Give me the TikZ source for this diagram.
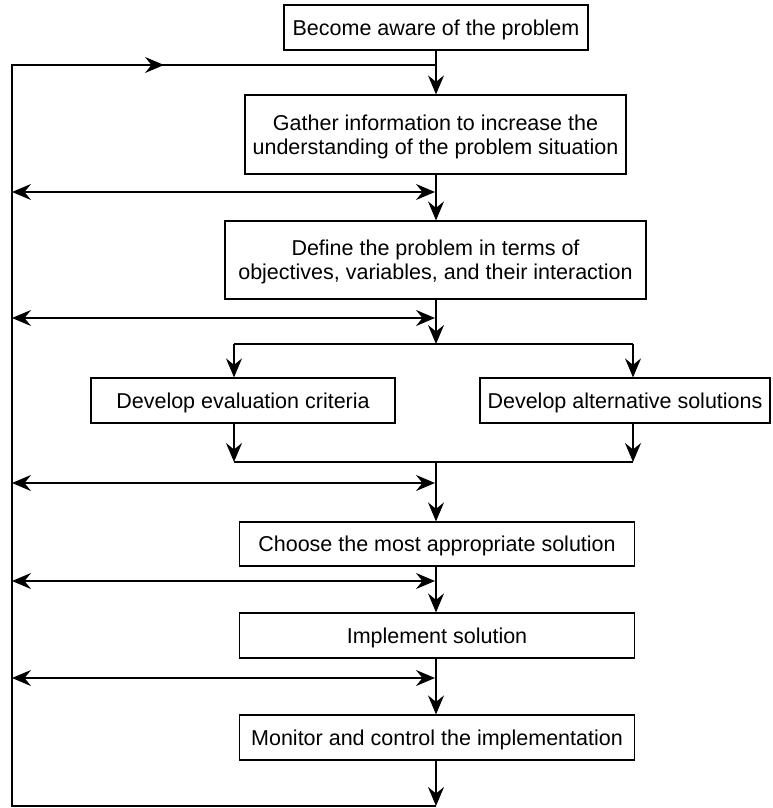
\documentclass[tikz,border=0pt]{standalone}
\usepackage{fontspec}
\setmainfont{Liberation Sans}
\usetikzlibrary{arrows.meta}
\begin{document}
\begin{tikzpicture}[x=1pt,y=-1pt,
  line width=1.2pt,
  box/.style={draw, rectangle, align=center, inner sep=0pt, text depth=0pt,
    font=\fontsize{21.5}{24.3}\selectfont},
  tip/.style={Stealth[length=19pt,width=16pt,inset=6.5pt]},
  flow/.style={-{Stealth[length=19pt,width=16pt,inset=6.5pt]}},
  both/.style={{Stealth[length=19pt,width=16pt,inset=6.5pt]}-{Stealth[length=19pt,width=16pt,inset=6.5pt]}},
]
\useasboundingbox (0,0) rectangle (773,808);

% process steps
\node[box, minimum width=304pt, minimum height=45pt] (aware) at (436,27.5)
  {Become aware of the problem};
\node[box, minimum width=381pt, minimum height=79pt] (gather) at (435.5,134.5)
  {Gather information to increase the\\understanding of the problem situation};
\node[box, minimum width=421pt, minimum height=78pt] (define) at (435.5,260)
  {Define the problem in terms of\\objectives, variables, and their interaction};
\node[box, minimum width=304pt, minimum height=45pt] (criteria) at (243,400.5)
  {Develop evaluation criteria};
\node[box, minimum width=290pt, minimum height=45pt] (alternatives) at (625,400.5)
  {Develop alternative solutions};
\node[box, minimum width=395pt, minimum height=44pt] (choose) at (437,544)
  {Choose the most appropriate solution};
\node[box, minimum width=395pt, minimum height=45pt] (implement) at (437,635.5)
  {Implement solution};
\node[box, minimum width=395pt, minimum height=45pt] (monitor) at (437,737.5)
  {Monitor and control the implementation};

% routing points
\coordinate (spine) at (436,0);
\coordinate (loopTop) at (436,65);
\coordinate (loopTL) at (12,65);
\coordinate (loopMid) at (164,65);
\coordinate (loopBL) at (12,806);
\coordinate (loopBot) at (436,806);
\coordinate (split) at (436,344);
\coordinate (splitL) at (234,344);
\coordinate (splitR) at (633,344);
\coordinate (merge) at (436,462);
\coordinate (mergeL) at (234,462);
\coordinate (mergeR) at (633,462);
\foreach \n/\y in {a/192, b/318, c/483, d/581, e/678}{
  \coordinate (fb\n L) at (12,\y);
  \coordinate (fb\n R) at (435,\y);
}

% main flow
\draw[flow] (aware.south -| spine) -- (gather.north -| spine);
\draw[flow] (gather.south -| spine) -- (define.north -| spine);
\draw[flow] (define.south -| spine) -- (split);
\draw (splitL) -- (splitR);
\draw[flow] (splitL) -- (criteria.north -| splitL);
\draw[flow] (splitR) -- (alternatives.north -| splitR);
\draw[flow] (criteria.south -| mergeL) -- (mergeL);
\draw[flow] (alternatives.south -| mergeR) -- (mergeR);
\draw (mergeL) -- (mergeR);
\draw[flow] (merge) -- (choose.north -| spine);
\draw[flow] (choose.south -| spine) -- (implement.north -| spine);
\draw[flow] (implement.south -| spine) -- (monitor.north -| spine);

% feedback loop
\draw[flow] (monitor.south -| spine) -- (loopBot);
\draw (loopBot) -- (loopBL) -- (loopTL) -- (loopMid);
\draw[flow] (loopTL) -- (loopMid);
\draw (loopMid) -- (loopTop);

% two-way links to the loop
\foreach \n in {a,b,c,d,e}{
  \draw[both] (fb\n L) -- (fb\n R);
}
\end{tikzpicture}
\end{document}
